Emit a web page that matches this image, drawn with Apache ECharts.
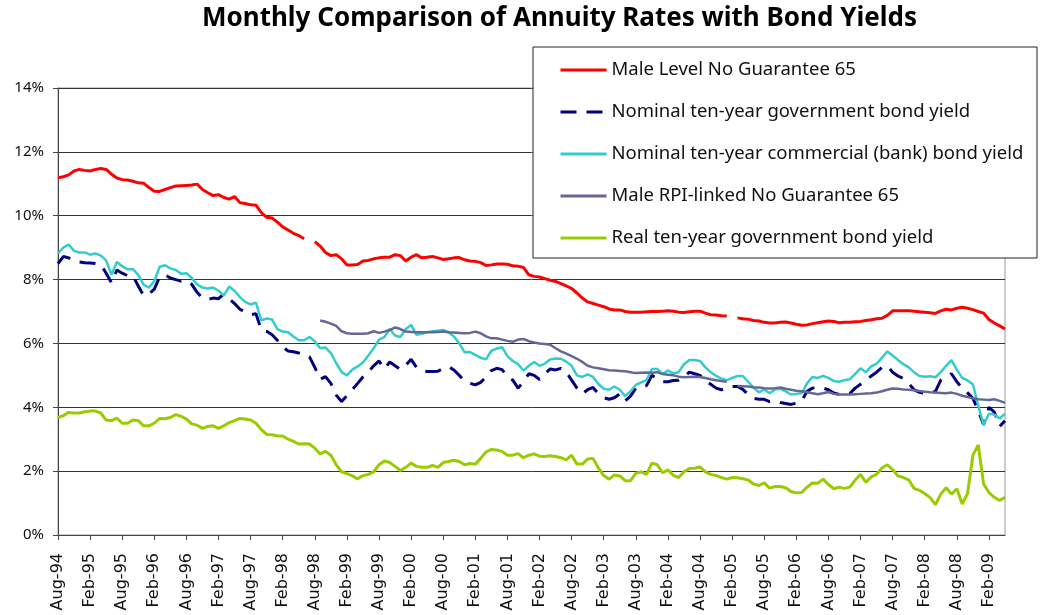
<!DOCTYPE html>
<html>
<head>
<meta charset="UTF-8">
<title>Annuity Rates vs Bond Yields</title>
<style>
  html, body { margin: 0; padding: 0; background: #fff; }
  #chart { width: 1045px; height: 615px; }
</style>
</head>
<body>
<div id="chart"></div>
<script src="https://cdn.jsdelivr.net/npm/echarts@6/dist/echarts.min.js"></script>
<script>
// months Aug-94 .. May-09
var monthNames = ['Jan', 'Feb', 'Mar', 'Apr', 'May', 'Jun', 'Jul', 'Aug', 'Sep', 'Oct', 'Nov', 'Dec'];
var startYear = 1994, startMonth = 7, monthCount = 178;
var categories = [];
for (var i = 0; i < monthCount; i++) {
    var mi = (startMonth + i) % 12;
    var yr = startYear + Math.floor((startMonth + i) / 12);
    categories.push(monthNames[mi] + '-' + String(yr).slice(2));
}

var seriesNames = [
    'Male Level No Guarantee 65',
    'Nominal ten-year government bond yield',
    'Nominal ten-year commercial (bank) bond yield',
    'Male RPI-linked No Guarantee 65',
    'Real ten-year government bond yield'
];

var maleLevel = [
    11.19, 11.22, 11.28, 11.4, 11.45, 11.42, 11.4, 11.45, 11.48, 11.45,
    11.3, 11.18, 11.13, 11.12, 11.08, 11.03, 11.02, 10.88, 10.77, 10.76,
    10.82, 10.88, 10.93, 10.94, 10.95, 10.96, 10.99, 10.82, 10.72, 10.63,
    10.66, 10.57, 10.52, 10.6, 10.41, 10.38, 10.34, 10.33, 10.1, 9.95,
    9.93, 9.8, 9.65, 9.55, 9.45, 9.38, 9.28, null, 9.19, 9.05,
    8.85, 8.75, 8.78, 8.65, 8.46, 8.46, 8.47, 8.58, 8.6, 8.65,
    8.68, 8.7, 8.7, 8.78, 8.75, 8.58, 8.7, 8.78, 8.68, 8.7,
    8.72, 8.68, 8.63, 8.65, 8.68, 8.69, 8.62, 8.58, 8.57, 8.53,
    8.44, 8.46, 8.49, 8.49, 8.48, 8.43, 8.42, 8.38, 8.15, 8.1,
    8.08, 8.03, 7.98, 7.94, 7.87, 7.8, 7.72, 7.58, 7.42, 7.3,
    7.25, 7.2, 7.15, 7.08, 7.05, 7.05, 7.0, 6.98, 6.98, 6.98,
    6.99, 7.0, 7.0, 7.01, 7.02, 7.01, 6.98, 6.97, 6.99, 7.01,
    7.01, 6.95, 6.9, 6.89, 6.87, 6.86, null, 6.8, 6.77, 6.76,
    6.72, 6.7, 6.66, 6.64, 6.64, 6.66, 6.67, 6.64, 6.6, 6.57,
    6.58, 6.62, 6.65, 6.68, 6.7, 6.69, 6.65, 6.66, 6.66, 6.68,
    6.69, 6.72, 6.74, 6.77, 6.79, 6.88, 7.02, 7.02, 7.02, 7.02,
    7.01, 6.99, 6.98, 6.96, 6.94, 7.02, 7.07, 7.05, 7.1, 7.13,
    7.1, 7.06, 7.0, 6.95, 6.75, 6.64, 6.55, 6.45
];

var govYield = [
    8.5, 8.72, 8.68, 8.6, 8.55, 8.53, 8.52, 8.5, 8.47, 8.2,
    7.9, 8.3, 8.2, 8.12, 8.12, 7.8, 7.5, 7.55, 7.7, 8.08,
    8.15, 8.05, 8.0, 7.95, 7.96, 7.85, 7.6, 7.42, 7.38, 7.42,
    7.4, 7.55, 7.4, 7.25, 7.07, 6.98, 6.9, 6.93, 6.42, 6.38,
    6.27, 6.1, 5.9, 5.76, 5.74, 5.7, 5.65, 5.58, 5.25, 4.88,
    4.96, 4.75, 4.38, 4.18, 4.36, 4.55, 4.75, 4.95, 5.1, 5.3,
    5.45, 5.2, 5.42, 5.3, 5.18, 5.32, 5.5, 5.25, 5.15, 5.12,
    5.12, 5.13, 5.22, 5.27, 5.17, 5.0, 4.82, 4.75, 4.7, 4.78,
    4.95, 5.15, 5.22, 5.18, 4.95, 4.85, 4.6, 4.8, 5.05, 5.0,
    4.87, 5.05, 5.2, 5.17, 5.22, 5.1, 4.85, 4.6, 4.42, 4.55,
    4.62, 4.42, 4.3, 4.25, 4.3, 4.42, 4.2, 4.35, 4.6, 4.62,
    4.68, 5.0, 4.9, 4.8, 4.8, 4.84, 4.85, 4.95, 5.1, 5.05,
    5.0, 4.82, 4.72, 4.6, 4.55, 4.6, 4.65, 4.65, 4.56, 4.4,
    4.28, 4.25, 4.25, 4.18, 4.2, 4.15, 4.12, 4.09, 4.13, 4.2,
    4.5, 4.6, 4.62, 4.6, 4.55, 4.45, 4.4, 4.4, 4.43, 4.6,
    4.72, 4.85, 4.98, 5.1, 5.25, 5.3, 5.1, 4.98, 4.9, 4.75,
    4.55, 4.47, 4.44, 4.44, 4.5, 4.85, 4.95, 5.05, 4.8, 4.6,
    4.45, 4.28, 3.9, 3.45, 4.0, 3.85, 3.4, 3.58
];

var bankYield = [
    8.82, 9.0, 9.1, 8.9, 8.85, 8.85, 8.78, 8.82, 8.75, 8.6,
    8.15, 8.55, 8.42, 8.32, 8.33, 8.15, 7.84, 7.75, 7.95, 8.4,
    8.45, 8.35, 8.3, 8.18, 8.2, 8.05, 7.85, 7.75, 7.72, 7.75,
    7.65, 7.5, 7.78, 7.65, 7.45, 7.3, 7.22, 7.28, 6.72, 6.78,
    6.75, 6.45, 6.37, 6.35, 6.22, 6.1, 6.1, 6.2, 6.07, 5.85,
    5.87, 5.7, 5.38, 5.1, 5.0, 5.18, 5.28, 5.4, 5.62, 5.85,
    6.12, 6.2, 6.45, 6.25, 6.2, 6.45, 6.58, 6.27, 6.3, 6.35,
    6.38, 6.4, 6.42, 6.35, 6.22, 6.0, 5.72, 5.73, 5.64, 5.55,
    5.5, 5.77, 5.84, 5.88, 5.6, 5.45, 5.35, 5.15, 5.3, 5.42,
    5.3, 5.37, 5.5, 5.53, 5.52, 5.43, 5.3, 5.0, 4.95, 5.03,
    4.95, 4.73, 4.58, 4.55, 4.65, 4.55, 4.35, 4.5, 4.7, 4.78,
    4.85, 5.2, 5.2, 5.05, 5.15, 5.06, 5.1, 5.35, 5.48, 5.48,
    5.45, 5.25, 5.1, 4.98, 4.9, 4.85, 4.92, 4.98, 4.98, 4.8,
    4.62, 4.47, 4.56, 4.44, 4.56, 4.58, 4.5, 4.4, 4.42, 4.44,
    4.75, 4.95, 4.92, 4.98, 4.92, 4.82, 4.8, 4.85, 4.88, 5.05,
    5.22, 5.1, 5.28, 5.37, 5.55, 5.75, 5.62, 5.48, 5.35, 5.25,
    5.1, 4.98, 4.96, 4.97, 4.94, 5.1, 5.3, 5.48, 5.18, 4.92,
    4.84, 4.72, 4.05, 3.45, 3.8, 3.77, 3.65, 3.8
];

var maleRpi = [
    null, null, null, null, null, null, null, null, null, null,
    null, null, null, null, null, null, null, null, null, null,
    null, null, null, null, null, null, null, null, null, null,
    null, null, null, null, null, null, null, null, null, null,
    null, null, null, null, null, null, null, null, null, 6.72,
    6.68, 6.62, 6.55, 6.38, 6.32, 6.3, 6.3, 6.3, 6.32, 6.38,
    6.33, 6.37, 6.42, 6.5, 6.45, 6.37, 6.36, 6.35, 6.35, 6.35,
    6.35, 6.36, 6.37, 6.35, 6.34, 6.33, 6.32, 6.33, 6.37, 6.32,
    6.22, 6.16, 6.16, 6.12, 6.08, 6.05, 6.12, 6.14, 6.07, 6.03,
    6.0, 5.98, 5.96, 5.85, 5.75, 5.68, 5.6, 5.52, 5.42, 5.3,
    5.25, 5.22, 5.19, 5.16, 5.15, 5.14, 5.13, 5.1, 5.07, 5.08,
    5.09, 5.08, 5.1, 5.04, 5.02, 5.0, 4.96, 4.94, 4.95, 4.96,
    4.95, 4.92, 4.88, 4.85, 4.82, 4.8, null, 4.67, 4.66, 4.65,
    4.63, 4.62, 4.6, 4.59, 4.6, 4.62, 4.58, 4.55, 4.52, 4.5,
    4.47, 4.44, 4.41, 4.44, 4.48, 4.42, 4.4, 4.4, 4.4, 4.41,
    4.42, 4.43, 4.44, 4.46, 4.5, 4.55, 4.59, 4.58, 4.56, 4.55,
    4.53, 4.51, 4.49, 4.47, 4.46, 4.45, 4.44, 4.46, 4.42, 4.36,
    4.32, 4.28, 4.25, 4.24, 4.23, 4.25, 4.2, 4.14
];

var realYield = [
    3.68, 3.74, 3.84, 3.82, 3.82, 3.86, 3.88, 3.88, 3.82, 3.6,
    3.58, 3.66, 3.5, 3.5, 3.6, 3.58, 3.42, 3.42, 3.5, 3.65,
    3.64, 3.68, 3.77, 3.72, 3.63, 3.48, 3.44, 3.34, 3.4, 3.42,
    3.34, 3.42, 3.52, 3.58, 3.65, 3.63, 3.6, 3.5, 3.3, 3.15,
    3.14, 3.1, 3.1, 3.0, 2.93, 2.85, 2.86, 2.85, 2.72, 2.54,
    2.62, 2.5, 2.2, 1.98, 1.92, 1.85, 1.76, 1.86, 1.9, 1.98,
    2.2, 2.32, 2.27, 2.15, 2.02, 2.12, 2.25, 2.15, 2.12, 2.12,
    2.18, 2.12, 2.27, 2.3, 2.34, 2.3, 2.2, 2.24, 2.22, 2.4,
    2.6, 2.68, 2.66, 2.62, 2.5, 2.5, 2.55, 2.42, 2.5, 2.54,
    2.47, 2.46, 2.48, 2.46, 2.42, 2.35, 2.5, 2.22, 2.22, 2.38,
    2.4, 2.1, 1.86, 1.75, 1.88, 1.85, 1.7, 1.7, 1.93, 1.98,
    1.9, 2.25, 2.2, 1.95, 2.04, 1.87, 1.8, 1.98, 2.08, 2.09,
    2.13, 1.98, 1.9, 1.86, 1.8, 1.75, 1.8, 1.79, 1.76, 1.72,
    1.6, 1.55, 1.63, 1.47, 1.52, 1.52, 1.48, 1.36, 1.32, 1.33,
    1.5, 1.63, 1.62, 1.75, 1.58, 1.45, 1.5, 1.46, 1.5, 1.72,
    1.9, 1.65, 1.82, 1.9, 2.1, 2.2, 2.05, 1.85, 1.8, 1.73,
    1.46, 1.4, 1.3, 1.17, 0.95, 1.28, 1.48, 1.28, 1.45, 0.97,
    1.3, 2.5, 2.82, 1.6, 1.33, 1.18, 1.08, 1.18
];

var colors = ['#ff0000', '#000080', '#33cccc', '#666699', '#99cc00'];

var myChart = echarts.init(document.getElementById('chart'));

function lineSeries(idx, data, width, dash) {
    return {
        name: seriesNames[idx],
        type: 'line',
        data: data,
        symbol: 'none',
        connectNulls: false,
        lineStyle: { color: colors[idx], width: width, type: dash || 'solid' },
        itemStyle: { color: colors[idx] },
        emphasis: { disabled: true }
    };
}

var option = {
    animation: false,
    backgroundColor: '#fff',
    title: {
        text: 'Monthly Comparison of Annuity Rates with Bond Yields',
        left: 197,
        top: 1,
        textStyle: { fontFamily: 'Noto Sans', fontWeight: 'bold', fontSize: 26, color: '#000' }
    },
    grid: {
        left: 58, right: 40, top: 88, bottom: 80,
        show: true, borderColor: '#999', borderWidth: 1
    },
    graphic: [{
        type: 'rect',
        z: 3,
        shape: { x: 533, y: 47, width: 504, height: 211 },
        style: { fill: '#fff', stroke: '#222', lineWidth: 1 }
    }],
    legend: {
        orient: 'vertical',
        left: 559, top: 60,
        padding: 0,
        itemWidth: 46, itemHeight: 20, itemGap: 22,
        itemStyle: { opacity: 0 },
        lineStyle: { width: 3 },
        data: seriesNames,
        textStyle: { fontFamily: 'Noto Sans', fontSize: 18.5, color: '#111', lineHeight: 20 }
    },
    xAxis: {
        type: 'category',
        data: categories,
        boundaryGap: false,
        axisLine: { lineStyle: { color: '#444', width: 1 } },
        axisTick: { interval: 5, length: 5, lineStyle: { color: '#444' } },
        axisLabel: {
            interval: 5, rotate: 90, margin: 18,
            fontFamily: 'DejaVu Sans', fontSize: 16, color: '#111'
        },
        splitLine: { show: false }
    },
    yAxis: {
        type: 'value',
        min: 0, max: 14, interval: 2,
        axisLine: { show: true, lineStyle: { color: '#444', width: 1 } },
        axisTick: { show: true, length: 5, lineStyle: { color: '#444' } },
        axisLabel: {
            formatter: '{value}%', margin: 14,
            fontFamily: 'Noto Sans', fontSize: 15, color: '#111'
        },
        splitLine: { lineStyle: { color: '#333', width: 1 } }
    },
    series: [
        lineSeries(0, maleLevel, 3),
        lineSeries(1, govYield, 3, [16, 10]),
        lineSeries(2, bankYield, 2.5),
        lineSeries(3, maleRpi, 2.5),
        lineSeries(4, realYield, 3)
    ]
};
myChart.setOption(option);
</script>
</body>
</html>
